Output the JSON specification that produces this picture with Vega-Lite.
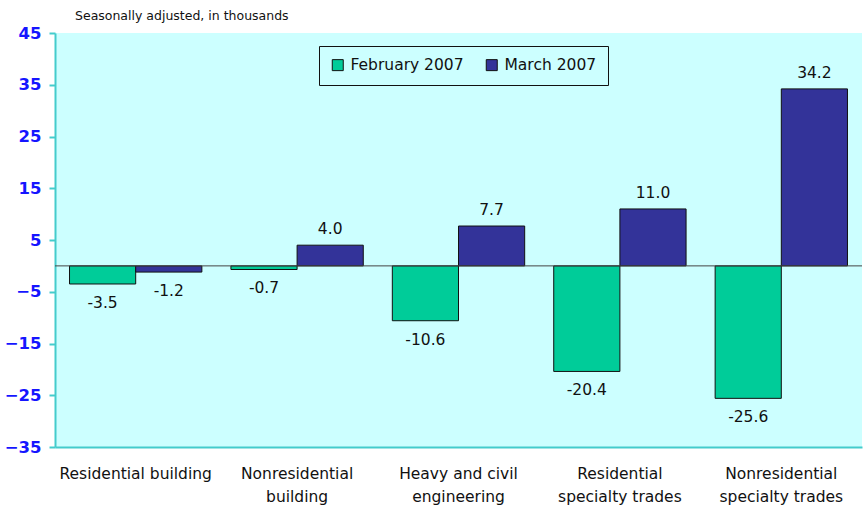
{
  "$schema": "https://vega.github.io/schema/vega-lite/v6.json",
  "width": 807,
  "height": 414,
  "autosize": "none",
  "padding": {"left": 55, "top": 33, "right": 1, "bottom": 61},
  "background": "white",
  "title": {
    "text": "Seasonally adjusted, in thousands",
    "anchor": "start",
    "frame": "group",
    "dx": 20,
    "offset": 3,
    "font": "DejaVu Sans",
    "fontSize": 12.5,
    "fontWeight": "normal",
    "color": "#111111"
  },
  "config": {
    "view": {"fill": "#CCFFFF", "stroke": null},
    "axis": {"grid": false}
  },
  "data": {
    "values": [
      {"category": "Residential building", "month": "February 2007", "value": -3.5},
      {"category": "Residential building", "month": "March 2007", "value": -1.2},
      {"category": "Nonresidential building", "month": "February 2007", "value": -0.7},
      {"category": "Nonresidential building", "month": "March 2007", "value": 4.0},
      {"category": "Heavy and civil engineering", "month": "February 2007", "value": -10.6},
      {"category": "Heavy and civil engineering", "month": "March 2007", "value": 7.7},
      {"category": "Residential specialty trades", "month": "February 2007", "value": -20.4},
      {"category": "Residential specialty trades", "month": "March 2007", "value": 11.0},
      {"category": "Nonresidential specialty trades", "month": "February 2007", "value": -25.6},
      {"category": "Nonresidential specialty trades", "month": "March 2007", "value": 34.2}
    ]
  },
  "transform": [
    {"calculate": "replace(format(datum.value, '.1f'), '\u2212', '-')", "as": "label"}
  ],
  "encoding": {
    "x": {
      "field": "category",
      "type": "nominal",
      "sort": null,
      "scale": {"paddingInner": 0.18, "paddingOuter": 0.09},
      "axis": {
        "title": null,
        "labelAngle": 0,
        "domain": true,
        "domainColor": "#44CCCC",
        "domainWidth": 2,
        "ticks": false,
        "labelPadding": 19,
        "labelFont": "DejaVu Sans",
        "labelFontSize": 15.5,
        "labelColor": "#111111",
        "labelLineHeight": 23,
        "labelBaseline": "top",
        "labelLimit": 300,
        "labelExpr": "datum.label == 'Nonresidential building' ? ['Nonresidential', 'building'] : datum.label == 'Heavy and civil engineering' ? ['Heavy and civil', 'engineering'] : datum.label == 'Residential specialty trades' ? ['Residential', 'specialty trades'] : datum.label == 'Nonresidential specialty trades' ? ['Nonresidential', 'specialty trades'] : datum.label"
      }
    },
    "xOffset": {"field": "month", "type": "nominal", "scale": {"paddingInner": 0, "paddingOuter": 0}}
  },
  "layer": [
    {
      "mark": {"type": "bar", "stroke": "#111111", "strokeWidth": 1},
      "encoding": {
        "y": {
          "field": "value",
          "type": "quantitative",
          "scale": {"domain": [-35, 45], "nice": false, "zero": false},
          "axis": {
            "title": null,
            "values": [-35, -25, -15, -5, 5, 15, 25, 35, 45],
            "domainColor": "#44CCCC",
            "domainWidth": 2,
            "tickColor": "#44CCCC",
            "tickSize": 6,
            "tickWidth": 2,
            "labelFont": "DejaVu Sans",
            "labelFontWeight": "bold",
            "labelFontSize": 16.5,
            "labelColor": "#1515FF",
            "labelPadding": 8
          }
        },
        "color": {
          "field": "month",
          "type": "nominal",
          "scale": {"domain": ["February 2007", "March 2007"], "range": ["#00CC99", "#333399"]},
          "legend": {
            "title": null,
            "orient": "none",
            "legendX": 264,
            "legendY": 13,
            "direction": "horizontal",
            "symbolType": "square",
            "symbolSize": 121,
            "symbolStrokeColor": "#111111",
            "symbolStrokeWidth": 1,
            "labelFont": "DejaVu Sans",
            "labelFontSize": 15.5,
            "labelColor": "#111111",
            "labelOffset": 5,
            "columnPadding": 20,
            "padding": 11,
            "strokeColor": "#111111",
            "fillColor": "#CCFFFF",
            "labelLimit": 200
          }
        }
      }
    },
    {
      "mark": {"type": "rule", "color": "#444444", "strokeWidth": 1},
      "data": {"values": [{"zero": 0}]},
      "transform": [],
      "encoding": {
        "y": {"field": "zero", "type": "quantitative"},
        "x": null,
        "xOffset": null
      }
    },
    {
      "transform": [{"filter": "datum.value >= 0"}],
      "mark": {"type": "text", "baseline": "alphabetic", "dy": -11, "font": "DejaVu Sans", "fontSize": 15.5, "color": "#111111"},
      "encoding": {
        "y": {"field": "value", "type": "quantitative"},
        "text": {"field": "label", "type": "nominal"}
      }
    },
    {
      "transform": [{"filter": "datum.value < 0"}],
      "mark": {"type": "text", "baseline": "top", "dy": 12, "font": "DejaVu Sans", "fontSize": 15.5, "color": "#111111"},
      "encoding": {
        "y": {"field": "value", "type": "quantitative"},
        "text": {"field": "label", "type": "nominal"}
      }
    }
  ]
}
